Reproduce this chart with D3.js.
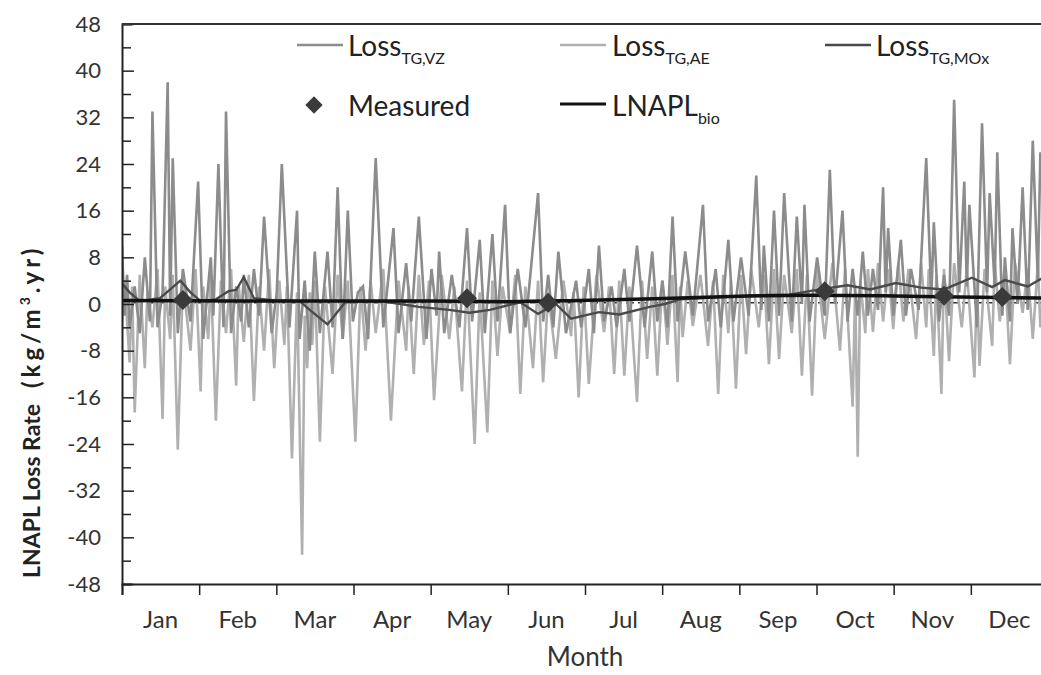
<!DOCTYPE html>
<html><head><meta charset="utf-8">
<script src="https://cdn.jsdelivr.net/npm/d3@7"></script>
<style>
body{margin:0;background:#fff;}
svg{display:block;font-family:Lato,"Open Sans",sans-serif;}
</style></head>
<body><svg id="c" width="1041" height="675"></svg>
<script>
const months = ["Jan","Feb","Mar","Apr","May","Jun","Jul","Aug","Sep","Oct","Nov","Dec"];
const yTickLabels = [48,40,32,24,16,8,0,-8,-16,-24,-32,-40,-48];

const vzDays = [0,1,2,3,5,7,9,11,12,14,16,18,19,20,22,24,27,30,32,35,36,38,40,41,43,45,47,48,50,52,54,56,59,61,63,66,69,70,72,74,76,78,81,83,85,87,89,91,93,95,97,100,103,107,109,112,114,117,120,122,124,125,127,130,133,136,138,141,143,146,148,151,153,156,159,164,166,168,170,172,175,179,181,184,186,188,190,193,195,198,200,203,206,209,211,213,215,217,219,222,225,229,231,234,236,239,241,244,247,250,252,253,255,257,259,261,264,266,268,269,271,274,277,279,281,284,286,288,290,292,294,296,298,300,301,302,304,307,309,311,314,317,319,320,322,324,326,328,330,332,333,334,337,339,341,342,344,345,347,348,350,351,353,355,357,359,361,362,365];
const vzValues = [10,-2,5,-4,3,-5,8,-3,33,-4,2,38,-2,25,-5,6,-3,21,-6,8,-2,24,-4,33,-5,3,-3,5,-4,6,-2,15,-5,2,24,-4,16,-6,4,-8,9,-5,9,-4,20,-6,16,-3,2,3,-6,25,-4,13,-5,7,-3,15,-6,6,-2,9,-5,5,-4,13,-3,11,-5,12,-3,17,-5,6,-4,19,-3,5,-4,9,-5,4,-4,6,-5,10,-3,3,-4,6,-3,10,-4,9,-3,4,-4,15,-3,9,-2,17,-3,6,-4,11,-3,8,-2,22,-1,10,-3,16,-2,19,-3,15,0,17,-3,8,-2,23,0,16,-3,6,-2,9,-2,6,-1,20,2,13,-2,11,-2,6,-1,25,1,14,-3,5,-2,35,2,21,3,17,-4,31,2,19,3,26,-2,8,-3,13,0,20,-1,28,4,26,3];

const aeDays = [0,1,3,4,5,7,9,10,12,14,16,17,19,20,22,24,27,29,31,32,34,35,37,39,41,43,45,46,48,50,52,54,56,58,60,62,64,65,67,69,71,72,73,74,75,76,78,80,83,85,87,89,92,94,96,98,100,103,106,109,112,113,115,117,119,121,123,126,129,131,134,136,139,141,144,146,148,150,153,155,157,159,162,164,166,168,171,174,177,178,180,182,184,187,190,192,194,196,198,200,203,205,207,209,211,213,215,217,219,220,221,223,225,228,231,233,235,237,239,240,242,244,246,248,251,253,255,257,259,261,264,266,268,270,272,274,277,280,283,285,288,289,290,291,293,294,296,298,300,302,304,306,308,310,313,315,317,318,320,321,323,324,326,328,331,333,336,337,338,340,343,344,346,348,350,352,355,357,359,361,362,365];
const aeValues = [-3,4,-10,3,-18.6,5,-11,2,-4,6,-19.7,3,-6,5,-25,4,-8,6,-15,3,-6,5,-20,4,-5,6,-14,3,-6.5,5,-16.6,3,-8,6,-11,4,-7,3,-26.5,2,-43,-2,-11,2,-7,4,-23.6,3,-12,5,-6,4,-23.6,3,-8,4,-5,6,-20,4,-8,3,-12,5,-7,4,-16.5,5,-6,3,-15,4,-24,2,-22,4,-8.9,3,-5,5,-15.4,3,-11,4,-13.4,2,-9.4,4,-5.5,2,-16,3,-13.7,5,-4.8,3,-12,4,-12.3,3,-16.8,4,-9.4,3,-12.3,4,-7,5,-13.4,3,-5.7,4,-3.8,5,-7.2,4,-15.4,5,-5,4,-14.5,5,-8.6,6,-4,5,-10.3,6,-9.4,5,-5,6,-12.3,5,-15.7,6,-6,7,-8,6,-17.6,3,-26.2,4,-5,6,-4.8,7,-3,6,-4.3,7,-3,6,-6,7,-4,6,-8.9,5,-15.4,6,-9.8,7,-4,6,-12.6,4,-10.6,6,-7.2,7,-3,6,-10.3,7,-1.5,6,-6,7,-4,5];

const moxDays = [0,3,7,15,23,27,31,37,42,45,48,52,60,70,74,81,88,102,117,129,137,145,157,164,171,177,188,196,208,214,220,236,252,263,275,286,295,305,315,324,335,343,348,357,365];
const moxValues = [3.5,2,0.5,1,4,2,0.5,0.8,2.2,2.4,4.6,1,0.6,0.5,-1,-3.5,0.3,0.5,-0.5,-1,-1.5,-1,0.3,-1.7,0,-2.5,-1.4,-1.8,-0.5,0,0.8,1.2,1.5,1.6,2.5,3.2,2.5,3.6,2.8,2.5,4.5,2.9,4.1,3,5];

const bioDays = [0,60,120,150,180,210,240,270,300,330,365];
const bioValues = [0.6,0.5,0.5,0.4,0.6,0.9,1.3,1.5,1.4,1.2,1.0];

const measDays = [24,136,168,277,324,347];
const measValues = [0.7,1.0,0.2,2.2,1.4,1.2];

const svg = d3.select("#c");
const W = 1041, H = 675;
const x = d3.scaleLinear().domain([0,365]).range([122,1048]);
const y = d3.scaleLinear().domain([-48,48]).range([584,24]);

svg.append("clipPath").attr("id","pc").append("rect")
  .attr("x",122).attr("y",24).attr("width",926).attr("height",560);

function series(days, vals){ return days.map((d,i)=>[d,vals[i]]); }
const line = d3.line().x(d=>x(d[0])).y(d=>y(d[1]));

const g = svg.append("g").attr("clip-path","url(#pc)");
g.append("line").attr("x1",x(0)).attr("x2",x(365)).attr("y1",y(0.2)).attr("y2",y(0.2))
  .attr("stroke","#333").attr("stroke-width",1.5).attr("stroke-dasharray","8,4");
g.append("path").datum(series(aeDays,aeValues)).attr("d",line)
  .attr("fill","none").attr("stroke","#b0b0b0").attr("stroke-width",2.6);
g.append("path").datum(series(vzDays,vzValues)).attr("d",line)
  .attr("fill","none").attr("stroke","#8c8c8c").attr("stroke-width",2.6);
g.append("path").datum(series(moxDays,moxValues)).attr("d",line)
  .attr("fill","none").attr("stroke","#4a4a4a").attr("stroke-width",2.4);
g.append("path").datum(series(bioDays,bioValues)).attr("d",d3.line().x(d=>x(d[0])).y(d=>y(d[1])).curve(d3.curveMonotoneX))
  .attr("fill","none").attr("stroke","#111").attr("stroke-width",3.5);
const diamond = d3.symbol().type(d3.symbolSquare).size(200);
g.selectAll("path.meas").data(series(measDays,measValues)).join("path").attr("class","meas")
  .attr("d",diamond)
  .attr("transform",d=>`translate(${x(d[0])},${y(d[1])}) rotate(45)`)
  .attr("fill","#3a3a3a");

// axes
const yAxis = d3.axisLeft(y).tickValues(d3.range(-48,49,4)).tickSize(-10).tickFormat("");
const ya = svg.append("g").attr("transform","translate(122,0)").call(yAxis);
ya.selectAll(".tick line").attr("stroke","#222").attr("stroke-width",1.5)
  .attr("x2",d=>d%8===0?12:9);
ya.select(".domain").attr("stroke","#222").attr("stroke-width",2);
yTickLabels.forEach(v=>{
  svg.append("text").attr("x",101).attr("y",y(v)).attr("dy","0.35em").attr("text-anchor","end")
    .attr("font-size",22).attr("fill","#333").text(v);
});
const monthBounds = d3.range(0,13).map(i=>365*i/12);
const xAxis = d3.axisBottom(x).tickValues(monthBounds).tickSize(11).tickFormat("");
const xa = svg.append("g").attr("transform","translate(0,584)").call(xAxis);
xa.selectAll(".tick line").attr("stroke","#222").attr("stroke-width",1.5);
xa.select(".domain").attr("stroke","#222").attr("stroke-width",2);
months.forEach((m,i)=>{
  svg.append("text").attr("x",x(365*(i+0.5)/12)).attr("y",628).attr("text-anchor","middle")
    .attr("font-size",24).attr("fill","#333").text(m);
});
svg.append("line").attr("x1",122).attr("x2",W).attr("y1",24).attr("y2",24).attr("stroke","#333").attr("stroke-width",2);

svg.append("text").attr("x",x(182.5)).attr("y",666).attr("text-anchor","middle")
  .attr("font-size",26).attr("fill","#333").text("Month");
// y title
const yt = svg.append("text").attr("transform","translate(40,578) rotate(-90)").attr("text-anchor","start")
  .attr("font-size",23).attr("font-weight","bold").attr("fill","#222");
yt.append("tspan").text("LNAPL Loss Rate");
yt.append("tspan").attr("dx",16).attr("letter-spacing",4).attr("font-size",24).text("(kg/m");
yt.append("tspan").attr("font-size",14).attr("dy",-10).attr("letter-spacing",4).text("3");
yt.append("tspan").attr("dy",10).attr("letter-spacing",4).attr("font-size",24).text(".yr)");

// legend
function legLine(x0,yy,color,w){
  svg.append("line").attr("x1",x0).attr("x2",x0+46).attr("y1",yy).attr("y2",yy)
    .attr("stroke",color).attr("stroke-width",w);
}
function legText(x0,yy,main,sub){
  const t = svg.append("text").attr("x",x0).attr("y",yy).attr("font-size",28).attr("fill","#222");
  t.append("tspan").text(main);
  if(sub) t.append("tspan").attr("font-size",16).attr("dy",8).text(sub);
}
legLine(297,45,"#8c8c8c",2.4); legText(348,56,"Loss","TG,VZ");
legLine(560,45,"#b0b0b0",2.4); legText(612,56,"Loss","TG,AE");
legLine(825,45,"#4a4a4a",2.4); legText(876,56,"Loss","TG,MOx");
svg.append("path").attr("d",d3.symbol().type(d3.symbolSquare).size(150))
  .attr("transform","translate(314,105) rotate(45)").attr("fill","#3a3a3a");
legText(348,116,"Measured");
legLine(560,104,"#111",3); legText(612,116,"LNAPL","bio");
</script></body></html>
